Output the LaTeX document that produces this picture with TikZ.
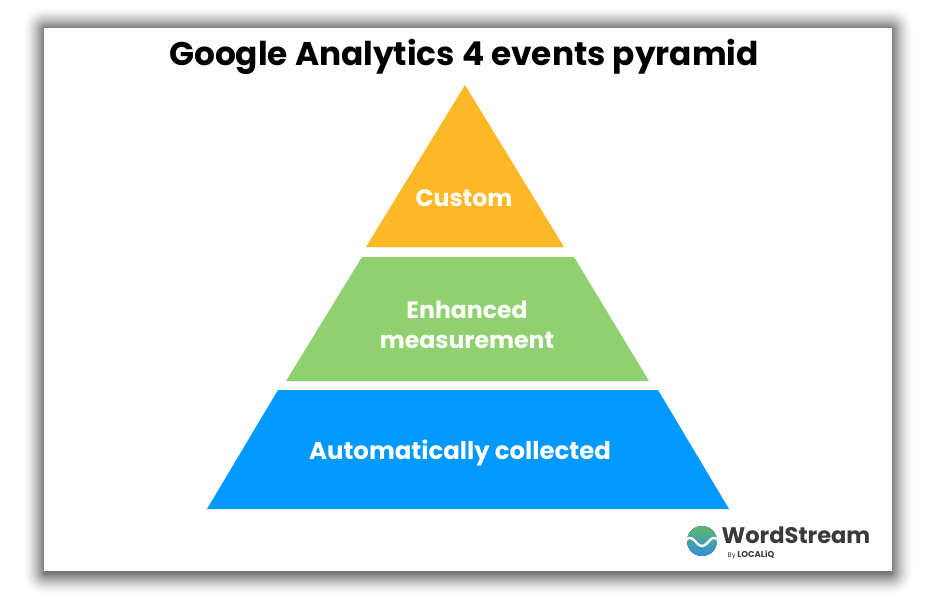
\documentclass[tikz,border=0pt]{standalone}
\usepackage{fontspec}
\setmainfont{Poppins}[BoldFont={Poppins Bold}]
\usetikzlibrary{positioning,calc}
\definecolor{customfill}{HTML}{FDB827}
\definecolor{enhancedfill}{HTML}{8FD16F}
\definecolor{autofill}{HTML}{0099FF}
\definecolor{logotext}{HTML}{3A3A3C}
\definecolor{logotop}{HTML}{62B56C}
\definecolor{logobottom}{HTML}{2C8FE0}
\tikzset{
    tierlabel/.style={text=white, font=\bfseries\fontsize{17.7}{22}\selectfont, align=center, inner sep=0pt},
}
\begin{document}
\begin{tikzpicture}[x=0.75pt, y=-0.75pt]
    \useasboundingbox (0, 0) rectangle (936, 600);

    % Card shadow
    \foreach \i in {22,21,...,0} {
        \pgfmathsetmacro{\shade}{52*(1-\i/22)^1.6}
        \fill[black!\shade!white, rounded corners=\i*0.75pt+1pt] (44-\i, 28-\i) rectangle (892+\i, 574+\i);
    }
    \fill[white] (44, 28) rectangle (892, 571);

    % Title
    \node[font=\bfseries\fontsize{24.6}{30}\selectfont, inner sep=0pt] (title) at (464, 57) {Google Analytics 4 events pyramid};

    % Pyramid tiers
    \fill[customfill] (465, 85) -- (366, 247) -- (564, 247) -- cycle;
    \fill[enhancedfill] (362, 257) -- (286, 381) -- (649, 381) -- (574, 257) -- cycle;
    \fill[autofill] (278, 390) -- (207, 509) -- (729, 509) -- (658, 390) -- cycle;

    % Labels
    \node[tierlabel] (custom) at (464, 198) {Custom};
    \node[tierlabel] (enhanced) at (467, 325) {Enhanced\\measurement};
    \node[tierlabel, font=\bfseries\fontsize{18.3}{22}\selectfont] (auto) at (460, 453) {Automatically collected};

    % Logo
    \fill[top color=logotop, bottom color=logobottom] (702, 541) circle (15);
    \draw[white, line width=1.8pt] (686, 540) .. controls (693, 533) and (696, 546) .. (702, 546) .. controls (708, 546) and (711, 533) .. (718, 540);
    \node[font=\bfseries\fontsize{16.9}{18}\selectfont, text=logotext, inner sep=0pt] (brand) at (796, 535) {WordStream};
    \node[font=\bfseries\fontsize{6.4}{7}\selectfont, text=logotext, inner sep=0pt] (byline) at (751, 555) {{\fontsize{5}{7}\selectfont\mdseries By} LOCALiQ};
\end{tikzpicture}
\end{document}
